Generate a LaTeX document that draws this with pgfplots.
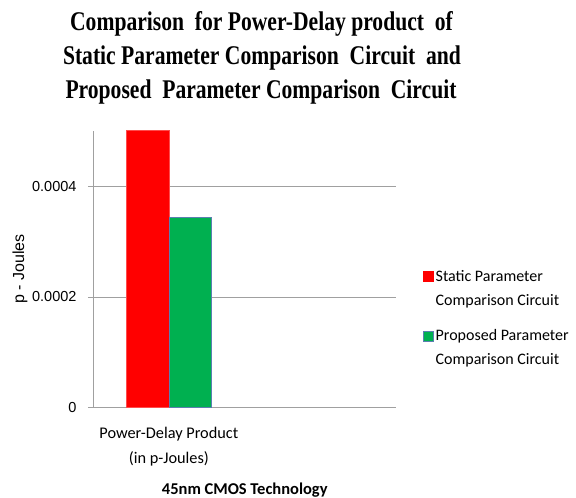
\documentclass[border=0pt]{standalone}
\usepackage{pgfplots}
\pgfplotsset{compat=1.18}
\usepackage{fontspec}
\setmainfont{Carlito}
\newfontfamily\arialf{Liberation Sans}
\newfontfamily\titlef[FakeStretch=0.8]{Liberation Serif}
\definecolor{exred}{HTML}{FF0000}
\definecolor{exgreen}{HTML}{00B050}
\definecolor{gridc}{HTML}{A0A0A0}
\definecolor{gborder}{HTML}{5B7FB0}
\begin{document}
\begin{tikzpicture}
\path[use as bounding box] (0,0) rectangle (576pt,-498pt);
\node[anchor=base, inner sep=0pt, font=\titlef\bfseries\fontsize{27}{27}\selectfont] at (261.5pt,-30pt) {Comparison\ \ for Power-Delay product\ \ of};
\node[anchor=base, inner sep=0pt, font=\titlef\bfseries\fontsize{27}{27}\selectfont] at (262pt,-64.5pt) {Static Parameter Comparison\ \ Circuit\ \ and};
\node[anchor=base, inner sep=0pt, font=\titlef\bfseries\fontsize{27}{27}\selectfont] at (261pt,-98pt) {Proposed\ \ Parameter Comparison\ \ Circuit};
\begin{axis}[
  at={(93pt,-407.7pt)}, anchor=south west,
  scale only axis, width=303.5pt, height=277pt,
  ybar=0pt, bar width=42.3pt,
  xmin=-0.5, xmax=1.5, ymin=0, ymax=0.0005,
  axis x line*=bottom, axis y line*=left,
  axis line style={gridc, line width=0.8pt},
  xtick={0}, xticklabels={{Power-Delay Product\\(in p-Joules)}},
  xtick style={draw=none},
  xticklabel style={align=center, font=\fontsize{16.3}{25}\selectfont, yshift=-10.5pt},
  ytick={0,0.0002,0.0004}, yticklabels={0,0.0002,0.0004},
  scaled y ticks=false,
  yticklabel style={font=\arialf\fontsize{14.5}{14.5}\selectfont, xshift=-8pt},
  tick align=outside, major tick length=5pt,
  ytick style={gridc, line width=0.8pt},
  ymajorgrids, grid style={gridc, line width=0.8pt},
  ylabel={p - Joules},
  ylabel style={at={(axis description cs:-0.2405,0.5)}, anchor=center, font=\arialf\fontsize{16}{16}\selectfont},
  xlabel={45nm CMOS Technology},
  xlabel style={at={(axis description cs:0.5,-0.315)}, anchor=base, font=\bfseries\fontsize{16.5}{16.5}\selectfont},
  legend style={at={(axis description cs:1.077,0.512)}, anchor=north west, draw=none, fill=none,
    font=\fontsize{16}{24}\selectfont, nodes={align=left, inner sep=2pt}, row sep=19pt},
  legend cell align=left,
]
\addplot[fill=exred, draw=exred!70!white, line width=0.6pt,
  legend image code/.code={\fill[exred] (0pt,7pt) rectangle (10pt,17pt);}] coordinates {(0,0.0005)};
\addplot[fill=exgreen, draw=gborder, line width=0.6pt,
  legend image code/.code={\path[fill=exgreen, draw=gborder, line width=0.4pt] (0pt,7pt) rectangle (10pt,17pt);}] coordinates {(0,0.000344)};
\legend{{Static Parameter\\Comparison Circuit},{Proposed Parameter\\Comparison Circuit}}
\end{axis}
\end{tikzpicture}
\end{document}
